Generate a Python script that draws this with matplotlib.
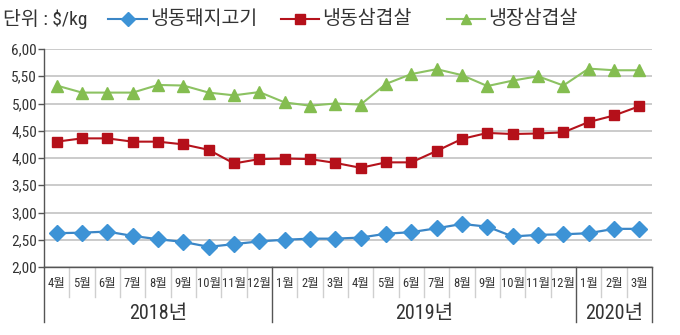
import matplotlib
matplotlib.use("Agg")
import matplotlib.pyplot as plt
from matplotlib.lines import Line2D
from matplotlib.ticker import FuncFormatter, MultipleLocator
import logging
logging.getLogger('matplotlib.font_manager').setLevel(logging.ERROR)

plt.rcParams['font.family'] = ['Roboto Condensed', 'Liberation Sans Narrow',
                               'Noto Sans CJK KR', 'DejaVu Sans']

# ---- data ----
months = ['4월', '5월', '6월', '7월', '8월', '9월', '10월', '11월', '12월',
          '1월', '2월', '3월', '4월', '5월', '6월', '7월', '8월', '9월', '10월', '11월', '12월',
          '1월', '2월', '3월']
years = ['2018년', '2019년', '2020년']
year_counts = [9, 12, 3]

frozen_pork = [2.62, 2.63, 2.65, 2.57, 2.51, 2.46, 2.37, 2.42, 2.47,
               2.50, 2.52, 2.52, 2.54, 2.61, 2.64, 2.71, 2.79, 2.74, 2.56, 2.59, 2.60,
               2.62, 2.70, 2.70]
frozen_belly = [4.30, 4.36, 4.36, 4.30, 4.30, 4.25, 4.15, 3.90, 3.98,
                3.99, 3.98, 3.91, 3.82, 3.92, 3.92, 4.13, 4.35, 4.46, 4.44, 4.45, 4.47,
                4.66, 4.78, 4.95]
chilled_belly = [5.33, 5.20, 5.20, 5.20, 5.34, 5.33, 5.20, 5.15, 5.21,
                 5.02, 4.96, 5.00, 4.98, 5.36, 5.54, 5.63, 5.52, 5.32, 5.42, 5.50, 5.33,
                 5.64, 5.61, 5.61]
series_names = ['냉동돼지고기', '냉동삼겹살', '냉장삼겹살']
unit_label = '단위 : $/kg'

# ---- styles ----
blue_line, blue_mk = '#3b86c6', '#3d93d6'
red_line, red_mk = '#b5131c', '#b5101a'
green_line, green_mk = '#8cc262', '#84bd50'
text_c = '#333333'

W, H = 680, 335
fig = plt.figure(figsize=(W / 100, H / 100), dpi=100)
ax_l, ax_r, ax_t, ax_b = 44, 652, 49, 267
ax = fig.add_axes([ax_l / W, 1 - ax_b / H, (ax_r - ax_l) / W, (ax_b - ax_t) / H])

x = list(range(len(months)))
ax.plot(x, chilled_belly, color=green_line, lw=1.5, marker='^', ms=8,
        mfc=green_mk, mec=green_mk, zorder=3)
ax.plot(x, frozen_belly, color=red_line, lw=1.5, marker='s', ms=7.5,
        mfc=red_mk, mec=red_mk, zorder=3)
ax.plot(x, frozen_pork, color=blue_line, lw=1.6, marker='D', ms=8,
        mfc=blue_mk, mec=blue_mk, zorder=3)

ax.set_xlim(-0.5, len(months) - 0.5)
ax.set_ylim(2.0, 6.0)
ax.yaxis.set_major_locator(MultipleLocator(0.5))
ax.yaxis.set_major_formatter(FuncFormatter(lambda v, p: f'{v:.2f}'.replace('.', ',')))
ax.grid(axis='y', color='#bdbdbd', lw=1.1)
ax.set_axisbelow(True)
for s in ['top', 'right']:
    ax.spines[s].set_visible(False)
for s in ['left', 'bottom']:
    ax.spines[s].set_color('#555555')
    ax.spines[s].set_linewidth(1.0)
ax.tick_params(axis='y', length=4, width=1, color='#555555', labelsize=11,
               labelcolor=text_c, pad=1)
ax.set_xticks([])

# category axis: month labels and separators
axh = ax_b - ax_t
m_depth = -(297 - ax_b) / axh
y_depth = -(322 - ax_b) / axh
trans = ax.get_xaxis_transform()
for i, m in enumerate(months):
    ax.text(i, -(283 - ax_b) / axh, m, transform=trans, ha='center', va='center',
            fontsize=9, color=text_c)
year_bounds = [-0.5]
for c in year_counts:
    year_bounds.append(year_bounds[-1] + c)
for b in range(1, len(months)):
    xb = b - 0.5
    if xb in year_bounds:
        continue
    ax.add_line(Line2D([xb, xb], [0, m_depth], transform=trans, color='#cfcfcf',
                       lw=1.0, clip_on=False))
for xb in year_bounds:
    ax.add_line(Line2D([xb, xb], [0, y_depth], transform=trans, color='#555555',
                       lw=1.0, clip_on=False))
for yname, a, b in zip(years, year_bounds[:-1], year_bounds[1:]):
    ax.text((a + b) / 2, -(314 - ax_b) / axh, yname, transform=trans, ha='center',
            va='center', fontsize=14.5, color=text_c)

# header / legend
ov = fig.add_axes([0, 0, 1, 1], facecolor='none')
ov.set_xlim(0, W)
ov.set_ylim(H, 0)
ov.axis('off')
ly = 19
ov.text(3, ly, unit_label, ha='left', va='center', fontsize=14, color=text_c)
leg = [(108, 147, series_names[0], blue_line, blue_mk, 'D', 7),
       (281, 319, series_names[1], red_line, red_mk, 's', 7),
       (447, 485, series_names[2], green_line, green_mk, '^', 7)]
for x0, x1, name, lc, mc, mk, ms in leg:
    ov.plot([x0, x1], [ly, ly], color=lc, lw=1.5)
    ov.plot([(x0 + x1) / 2], [ly], marker=mk, ms=ms, mfc=mc, mec=mc, ls='none')
    ov.text(x1 + 3, ly, name, ha='left', va='center', fontsize=14, color=text_c)

fig.savefig('out.png', dpi=100)
